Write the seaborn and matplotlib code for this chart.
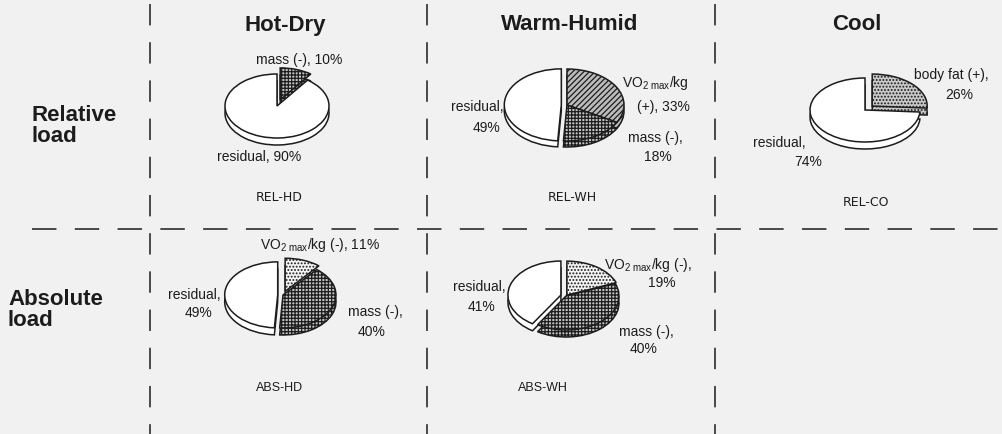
import matplotlib
matplotlib.use("Agg")
import matplotlib.pyplot as plt
import seaborn as sns

# ---- data -------------------------------------------------------------
climates = ["Hot-Dry", "Warm-Humid", "Cool"]
loads = ["Relative\nload", "Absolute\nload"]

VO2 = r"VO$_{2\ \mathrm{max}}$/kg"

rel_hd_labels = ["mass (-)", "residual"]
rel_hd_values = [10, 90]

rel_wh_labels = [VO2 + " (+)", "mass (-)", "residual"]
rel_wh_values = [33, 18, 49]

rel_co_labels = ["body fat (+)", "residual"]
rel_co_values = [26, 74]

abs_hd_labels = [VO2 + " (-)", "mass (-)", "residual"]
abs_hd_values = [11, 40, 49]

abs_wh_labels = [VO2 + " (-)", "mass (-)", "residual"]
abs_wh_values = [19, 40, 41]

panel_codes = ["REL-HD", "REL-WH", "REL-CO", "ABS-HD", "ABS-WH"]

# ---- style ------------------------------------------------------------
sns.set_theme(style="white")
plt.rcParams["font.family"] = ["Liberation Sans", "DejaVu Sans"]
plt.rcParams["mathtext.fontset"] = "custom"
plt.rcParams["mathtext.rm"] = "Liberation Sans"
plt.rcParams["mathtext.it"] = "Liberation Sans:italic"
plt.rcParams["hatch.linewidth"] = 0.9

BG = "#f1f1f1"
INK = "#1c1c1c"
greys = sns.light_palette("#7a7a7a", 4)
fills = {
    "residual": ("white", ""),
    "mass": ("#c4c4c4", "+++++"),
    "vo2_pos": ("#bcbcbc", "//////"),
    "vo2_neg": ("#f4f4f4", "....."),
    "fat": (greys[1], "....."),
}

FW, FH = 1003, 435
fig = plt.figure(figsize=(FW / 100, FH / 100), dpi=100, facecolor=BG)

# full-figure layer for grid lines and headings (pixel coordinates)
base = fig.add_axes([0, 0, 1, 1])
base.set_xlim(0, FW)
base.set_ylim(FH, 0)
base.axis("off")
base.set_facecolor(BG)

for x in (150, 427, 715):
    base.plot([x, x], [5, 435], color=INK, lw=1.1, dashes=(14, 11))
base.plot([32, FW], [230, 230], color=INK, lw=1.1, dashes=(16, 12))

for name, x in zip(climates, (285, 570, 857)):
    base.text(x, 25, name, ha="center", va="center", fontsize=16,
              fontweight="bold", color=INK)
base.text(32, 126, loads[0], ha="left", va="center", fontsize=16,
          fontweight="bold", color=INK, linespacing=0.95)
base.text(8, 310, loads[1], ha="left", va="center", fontsize=16,
          fontweight="bold", color=INK, linespacing=0.95)


def slice_lines(label, value, brk):
    if brk == "none":
        return [f"{label}, {value}%"]
    if brk == "value":
        return [f"{label},", f"{value}%"]
    head, tail = label.split(" (")
    return [head, f"({tail}, {value}%"]


def draw_panel(code, labels, values, kinds, explode, centre, rx, ry,
               depth, label_specs, code_pos, code_font):
    cx, cy = centre
    W, H = 220, 150
    ax = fig.add_axes([(cx - W / 2) / FW, 1 - (cy + H / 2) / FH, W / FW, H / FH])
    colors = [fills[k][0] for k in kinds]
    hatches = [fills[k][1] for k in kinds]
    # side wall first, then the top surface
    for yoff in (-depth / ry, 0.0):
        wedges, _ = ax.pie(values, colors=colors, explode=explode,
                           startangle=90, counterclock=False,
                           center=(0, yoff),
                           wedgeprops=dict(edgecolor=INK, linewidth=1.1))
        for w, h in zip(wedges, hatches):
            w.set_hatch(h)
    ax.set_aspect("auto")
    ax.set_xlim(-W / 2 / rx, W / 2 / rx)
    ax.set_ylim(-H / 2 / ry, H / 2 / ry)
    ax.axis("off")

    for label, value, (brk, positions) in zip(labels, values, label_specs):
        for line, (x, y) in zip(slice_lines(label, value, brk), positions):
            base.text(x, y, line, ha="center", va="center", fontsize=10,
                      color=INK)
    base.text(code_pos[0], code_pos[1], code, ha="center", va="center",
              fontsize=9, family=code_font, color=INK)


draw_panel("REL-HD", rel_hd_labels, rel_hd_values, ["mass", "residual"],
           [0.2, 0], (277, 107), 52, 32, 7,
           [("none", [(299, 60)]), ("none", [(259, 157)])],
           (279, 198), "DejaVu Sans")

draw_panel("REL-WH", rel_wh_labels, rel_wh_values,
           ["vo2_pos", "mass", "residual"],
           [0, 0, 0.1], (567, 106), 57, 36, 6,
           [("sign", [(655, 83), (663, 107)]),
            ("value", [(655, 138), (658, 157)]),
            ("value", [(477, 107), (487, 128)])],
           (572, 198), "DejaVu Sans")

draw_panel("REL-CO", rel_co_labels, rel_co_values, ["fat", "residual"],
           [0.18, 0], (865, 111), 55, 32, 7,
           [("value", [(951, 75), (959, 95)]),
            ("value", [(779, 143), (808, 162)])],
           (866, 203), "DejaVu Sans")

draw_panel("ABS-HD", abs_hd_labels, abs_hd_values,
           ["vo2_neg", "mass", "residual"],
           [0.12, 0, 0.1], (283, 296), 53, 33, 7,
           [("none", [(320, 245)]),
            ("value", [(375, 312), (372, 332)]),
            ("value", [(194, 295), (199, 313)])],
           (280, 388), "Liberation Sans")

draw_panel("ABS-WH", abs_wh_labels, abs_wh_values,
           ["vo2_neg", "mass", "residual"],
           [0.03, 0, 0.1], (566, 297), 53, 34, 7,
           [("value", [(648, 265), (662, 283)]),
            ("value", [(646, 332), (644, 349)]),
            ("value", [(479, 287), (482, 307)])],
           (543, 388), "Liberation Sans")

fig.savefig("out.png", dpi=100, facecolor=BG)
